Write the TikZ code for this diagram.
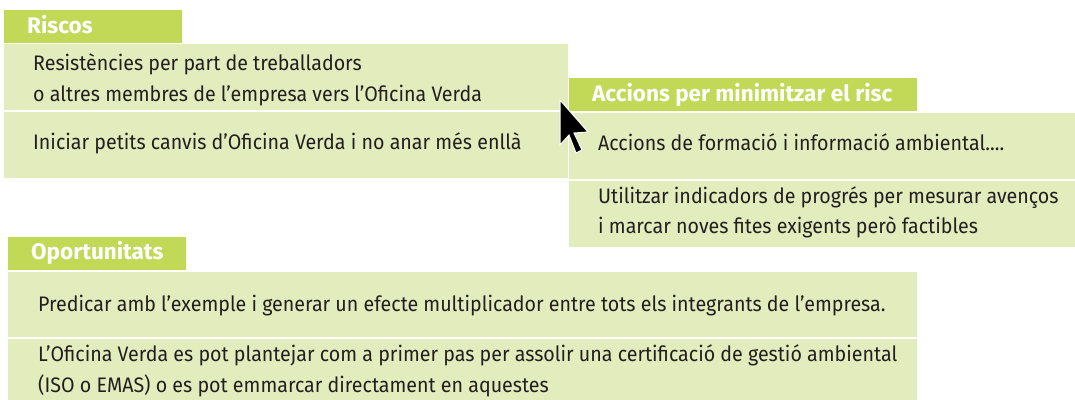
\documentclass[tikz,border=0pt]{standalone}
\usepackage{fontspec}
\setmainfont{Fira Sans}
\newfontfamily\bodyfont[FakeStretch=0.935]{Fira Sans}
\definecolor{hdr}{RGB}{193,217,86}
\definecolor{cell}{RGB}{226,236,188}
\definecolor{ink}{RGB}{35,31,32}
\begin{document}
\begin{tikzpicture}[x=1pt,y=-1pt,
  cellbox/.style={fill=cell, draw=none, anchor=north west, inner sep=0pt, outer sep=0pt},
  hdrbox/.style={fill=hdr, draw=none, anchor=north west, inner sep=0pt, outer sep=0pt},
  hdrtext/.style={anchor=base west, inner sep=0pt, text=white, font=\fontsize{22.5}{24}\selectfont\bfseries},
  celltext/.style={anchor=base west, inner sep=0pt, text=ink, font=\bodyfont\fontsize{21}{23}\selectfont},
]
\useasboundingbox (0,0) rectangle (1075,399);
% Riscos
\node[hdrbox, minimum width=178pt, minimum height=33pt] (rh) at (4,10) {};
\node[cellbox, minimum width=564pt, minimum height=66pt] (r1) at (4,44) {};
\node[cellbox, minimum width=564pt, minimum height=66pt] (r2) at (4,112) {};
\node[hdrtext] (rht) at (27,33) {Riscos};
\node[celltext] (r1a) at (33,70) {Resistències per part de treballadors};
\node[celltext] (r1b) at (33,101) {o altres membres de l’empresa vers l’Oficina Verda};
\node[celltext] (r2a) at (33,149) {Iniciar petits canvis d’Oficina Verda i no anar més enllà};
% Accions
\node[hdrbox, minimum width=348pt, minimum height=33pt] (ah) at (569,78) {};
\node[cellbox, minimum width=506pt, minimum height=66pt] (a1) at (569,113) {};
\node[cellbox, minimum width=506pt, minimum height=66pt] (a2) at (569,181) {};
\node[hdrtext] (aht) at (592,101) {Accions per minimitzar el risc};
\node[celltext] (a1a) at (598,150) {Accions de formació i informació ambiental....};
\node[celltext] (a2a) at (598,203) {Utilitzar indicadors de progrés per mesurar avenços};
\node[celltext] (a2b) at (598,233) {i marcar noves fites exigents però factibles};
% Oportunitats
\node[hdrbox, minimum width=178pt, minimum height=33pt] (oh) at (8,237) {};
\node[cellbox, minimum width=909pt, minimum height=65pt] (o1) at (8,272) {};
\node[cellbox, minimum width=909pt, minimum height=65pt] (o2) at (8,339) {};
\node[hdrtext] (oht) at (31,259) {Oportunitats};
\node[celltext] (o1a) at (38,311) {Predicar amb l’exemple i generar un efecte multiplicador entre tots els integrants de l’empresa.};
\node[celltext] (o2a) at (38,361) {L’Oficina Verda es pot plantejar com a primer pas per assolir una certificació de gestió ambiental};
\node[celltext] (o2b) at (38,392) {(ISO o EMAS) o es pot emmarcar directament en aquestes};
% cursor
\draw[fill=black, draw=white, line width=1pt, line join=miter]
  (560,100) -- (560,145) -- (569,135) -- (576,153) -- (582,150) -- (574,133) -- (588,132) -- cycle;
\end{tikzpicture}
\end{document}
